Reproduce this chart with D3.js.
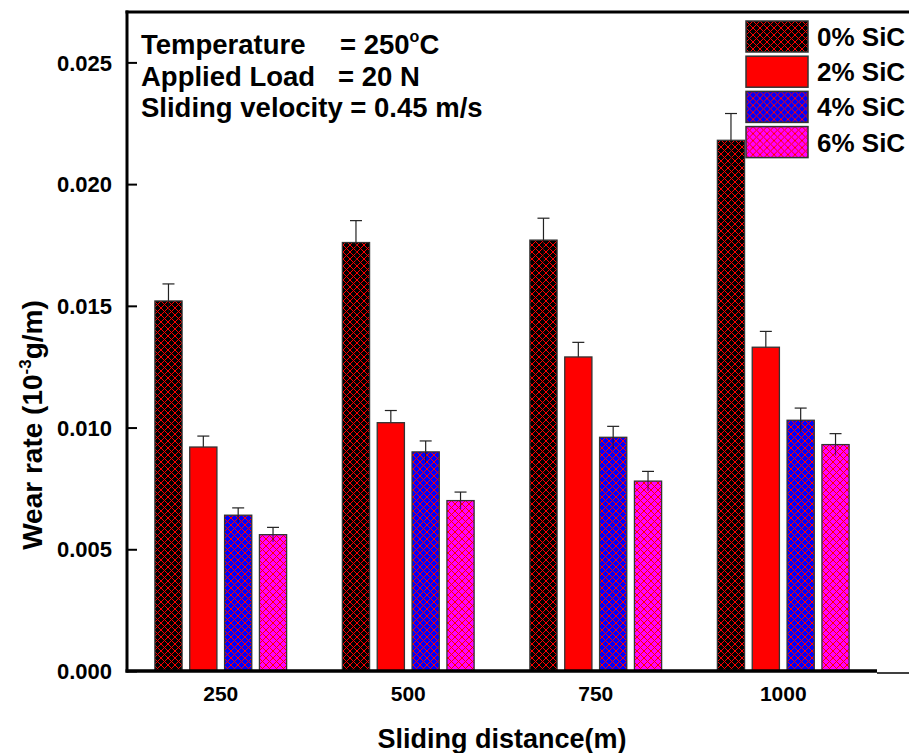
<!DOCTYPE html>
<html>
<head>
<meta charset="utf-8">
<script src="https://cdn.jsdelivr.net/npm/d3@7"></script>
<style>
body { margin: 0; background: #fff; }
text { font-family: "Liberation Sans", Arial, sans-serif; font-weight: bold; }
</style>
</head>
<body>
<script>
// categories and series
var distances = ["250", "500", "750", "1000"];
var series = ["0% SiC", "2% SiC", "4% SiC", "6% SiC"];

// wear rate for each series, one value per sliding distance
var sic0 = [0.0152, 0.0176, 0.0177, 0.0218];
var sic2 = [0.0092, 0.0102, 0.0129, 0.0133];
var sic4 = [0.0064, 0.0090, 0.0096, 0.0103];
var sic6 = [0.0056, 0.0070, 0.0078, 0.0093];

// error bar sizes
var err0 = [0.0007, 0.0009, 0.0009, 0.0011];
var err2 = [0.00045, 0.0005, 0.0006, 0.00065];
var err4 = [0.0003, 0.00045, 0.00045, 0.0005];
var err6 = [0.0003, 0.00035, 0.0004, 0.00045];

var yTicks = [0, 0.005, 0.010, 0.015, 0.020, 0.025];

var values = [sic0, sic2, sic4, sic6];
var errors = [err0, err2, err4, err6];

var width = 909, height = 753;
var pLeft = 127, pRight = 877, pTop = 12, pBottom = 671;

var svg = d3.select("body").append("svg")
  .attr("width", width)
  .attr("height", height);

// hatch patterns: red crosshatch on a fill colour
var fills = ["#000000", "#ff0000", "#0000ff", "#ff00ff"];
var defs = svg.append("defs");
fills.forEach(function(c, i) {
  var p = defs.append("pattern")
    .attr("id", "hatch" + i)
    .attr("patternUnits", "userSpaceOnUse")
    .attr("width", 7)
    .attr("height", 7);
  p.append("rect").attr("width", 7).attr("height", 7).attr("fill", c);
  if (i != 1) {
    p.append("path")
      .attr("d", "M0,0L7,7M7,0L0,7")
      .attr("stroke", "#ff0000")
      .attr("stroke-width", 1);
  }
});

var x = d3.scaleBand().domain(distances).range([pLeft, pRight]);
var xs = d3.scaleBand().domain(series).range([0, x.bandwidth()])
  .paddingInner(0.22).paddingOuter(0.8);
var y = d3.scaleLinear().domain([0, 0.02707]).range([pBottom, pTop]);

// table of bars
var rows = [];
series.forEach(function(s, si) {
  distances.forEach(function(d, di) {
    rows.push({ s: s, si: si, d: d, v: values[si][di], e: errors[si][di] });
  });
});

function cx(r) { return x(r.d) + xs(r.s) + xs.bandwidth() / 2; }

var g = svg.append("g");

// error bars behind the bars
g.selectAll("line.err")
  .data(rows)
  .enter().append("line")
  .attr("x1", cx)
  .attr("x2", cx)
  .attr("y1", function(r) { return y(r.v - r.e); })
  .attr("y2", function(r) { return y(r.v + r.e); })
  .attr("stroke", "#222")
  .attr("stroke-width", 1.2);

g.selectAll("line.cap")
  .data(rows)
  .enter().append("line")
  .attr("x1", function(r) { return cx(r) - 6; })
  .attr("x2", function(r) { return cx(r) + 6; })
  .attr("y1", function(r) { return y(r.v + r.e); })
  .attr("y2", function(r) { return y(r.v + r.e); })
  .attr("stroke", "#222")
  .attr("stroke-width", 1.2);

g.selectAll("rect.bar")
  .data(rows)
  .enter().append("rect")
  .attr("x", function(r) { return x(r.d) + xs(r.s); })
  .attr("y", function(r) { return y(r.v); })
  .attr("width", xs.bandwidth())
  .attr("height", function(r) { return y(0) - y(r.v); })
  .attr("fill", function(r) { return "url(#hatch" + r.si + ")"; })
  .attr("stroke", "#333")
  .attr("stroke-width", 1.3);

// inner part of the error bar shows through the hatched bars a little
g.selectAll("line.inner")
  .data(rows.filter(function(r) { return r.si != 1; }))
  .enter().append("line")
  .attr("x1", cx)
  .attr("x2", cx)
  .attr("y1", function(r) { return y(r.v); })
  .attr("y2", function(r) { return y(r.v - r.e); })
  .attr("stroke", "#111")
  .attr("stroke-width", 1.2)
  .attr("opacity", 0.6);

// y axis with inward ticks
var yAxis = svg.append("g")
  .attr("transform", "translate(" + pLeft + ",0)")
  .call(d3.axisRight(y).tickValues(yTicks).tickSize(10).tickFormat(d3.format(".3f")));
yAxis.select(".domain").remove();
yAxis.selectAll(".tick line").attr("stroke", "#000").attr("stroke-width", 2);
yAxis.selectAll(".tick text")
  .attr("x", -15)
  .attr("dy", "0.35em")
  .attr("text-anchor", "end")
  .attr("font-size", 22)
  .attr("fill", "#000");

// x axis labels
var xAxis = svg.append("g")
  .attr("transform", "translate(0," + pBottom + ")")
  .call(d3.axisBottom(x).tickSize(0));
xAxis.select(".domain").remove();
xAxis.selectAll(".tick text")
  .attr("y", 30)
  .attr("dy", 0)
  .attr("font-size", 21)
  .attr("fill", "#000");

// frame
svg.append("line").attr("x1", pLeft).attr("x2", pLeft).attr("y1", pTop - 1.5).attr("y2", pBottom + 1.5)
  .attr("stroke", "#000").attr("stroke-width", 3);
svg.append("line").attr("x1", pLeft - 1.5).attr("x2", width).attr("y1", pTop).attr("y2", pTop)
  .attr("stroke", "#000").attr("stroke-width", 3);
svg.append("line").attr("x1", pLeft - 1.5).attr("x2", pRight).attr("y1", pBottom).attr("y2", pBottom)
  .attr("stroke", "#000").attr("stroke-width", 3.5);
svg.append("line").attr("x1", pRight).attr("x2", width).attr("y1", pBottom + 2).attr("y2", pBottom + 2)
  .attr("stroke", "#000").attr("stroke-width", 1.5);

// axis titles
svg.append("text")
  .attr("x", 502).attr("y", 748)
  .attr("text-anchor", "middle")
  .attr("font-size", 27)
  .text("Sliding distance(m)");

var yt = svg.append("text")
  .attr("transform", "translate(42,425) rotate(-90)")
  .attr("text-anchor", "middle")
  .attr("font-size", 28);
yt.append("tspan").text("Wear rate (10");
yt.append("tspan").attr("font-size", 17).attr("dy", -11).text("-3");
yt.append("tspan").attr("dy", 11).text("g/m)");

// test conditions
var t1 = svg.append("text").attr("x", 141).attr("y", 54).attr("font-size", 27.5);
t1.append("tspan").text("Temperature");
t1.append("tspan").attr("x", 340).text("= 250");
t1.append("tspan").attr("font-size", 16).attr("dy", -12).text("o");
t1.append("tspan").attr("dy", 12).text("C");

var t2 = svg.append("text").attr("x", 141).attr("y", 86).attr("font-size", 27.5);
t2.append("tspan").text("Applied Load");
t2.append("tspan").attr("x", 338).text("= 20 N");

svg.append("text").attr("x", 141).attr("y", 117).attr("font-size", 27.5)
  .text("Sliding velocity = 0.45 m/s");

// legend
var leg = svg.append("g").selectAll("g")
  .data(series)
  .enter().append("g")
  .attr("transform", function(d, i) { return "translate(746," + (21 + i * 35.2) + ")"; });
leg.append("rect")
  .attr("width", 62).attr("height", 31)
  .attr("fill", function(d, i) { return "url(#hatch" + i + ")"; })
  .attr("stroke", "#333").attr("stroke-width", 1.5);
leg.append("text")
  .attr("x", 71).attr("y", 25)
  .attr("font-size", 26)
  .text(function(d) { return d; });
</script>
</body>
</html>
